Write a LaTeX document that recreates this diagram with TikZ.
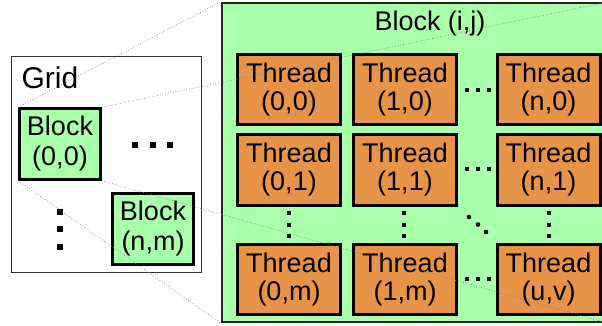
\documentclass[tikz,border=0pt]{standalone}
\usepackage{fontspec}
\setmainfont{Liberation Sans}
\definecolor{blockgreen}{RGB}{170,255,170}
\definecolor{threadorange}{RGB}{232,148,72}

\begin{document}
\begin{tikzpicture}[x=1pt,y=-1pt,
  gridbox/.style={draw=black!80,line width=1.2pt,minimum width=190pt,minimum height=216pt,inner sep=0pt},
  blockbox/.style={draw,fill=blockgreen,line width=2.5pt,minimum width=81pt,minimum height=71pt,inner sep=0pt,align=center,font=\fontsize{27}{30}\selectfont},
  thread/.style={draw,fill=threadorange,line width=3pt,minimum width=103pt,minimum height=70pt,inner sep=0pt,align=center,font=\fontsize{27}{28}\selectfont},
  zoomline/.style={black!50,line width=0.7pt,dotted}]
\useasboundingbox (0,0) rectangle (602,326);
\clip (0,0) rectangle (602,326);

\node[gridbox] (grid) at (106.5,164.5) {};
\node[anchor=base west,font=\fontsize{30}{30}\selectfont] (gridlabel) at (18,89) {Grid};
\node[blockbox] (b00) at (60,144) {Block\\(0,0)};
\node[blockbox] (bnm) at (153,229) {Block\\(n,m)};

\foreach \x in {135,153,170} \fill ({\x-3},142) rectangle ({\x+3},148);
\foreach \y in {212,229,247} \fill (57,{\y-3}) rectangle (63,{\y+3});


\node[draw=black!85,fill=blockgreen,line width=2pt,minimum width=385pt,minimum height=319pt] (blkij) at (414,162.5) {};
\node[anchor=base,font=\fontsize{27}{30}\selectfont] (blklabel) at (430,31) {Block (i,j)};

\node[thread] (t00) at (289,89.5) {Thread\\(0,0)};
\node[thread] (t10) at (405,89.5) {Thread\\(1,0)};
\node[thread] (tn0) at (548.5,89.5) {Thread\\(n,0)};
\node[thread] (t01) at (289,170) {Thread\\(0,1)};
\node[thread] (t11) at (405,170) {Thread\\(1,1)};
\node[thread] (tn1) at (548.5,170) {Thread\\(n,1)};
\node[thread] (t0m) at (289,279.5) {Thread\\(0,m)};
\node[thread] (t1m) at (405,279.5) {Thread\\(1,m)};
\node[thread] (tuv) at (548.5,279.5) {Thread\\(u,v)};

\foreach \y in {90,169,279}
  \foreach \x in {467,478,489} \fill ({\x-2},{\y-2}) rectangle ({\x+2},{\y+2});
\foreach \x in {289,404,549}
  \foreach \y in {213,224.5,236} \fill ({\x-2},{\y-2}) rectangle ({\x+2},{\y+2});
\foreach \x/\y in {469/217,478/224.5,486/232} \fill (\x,\y) circle (2.3);


\draw[zoomline] (b00.north west) -- (blkij.north west);
\draw[zoomline] (b00.north east) -- (blkij.north east);
\draw[zoomline] (b00.south west) -- (blkij.south west);
\draw[zoomline] (b00.south east) -- (blkij.south east);
\end{tikzpicture}
\end{document}
